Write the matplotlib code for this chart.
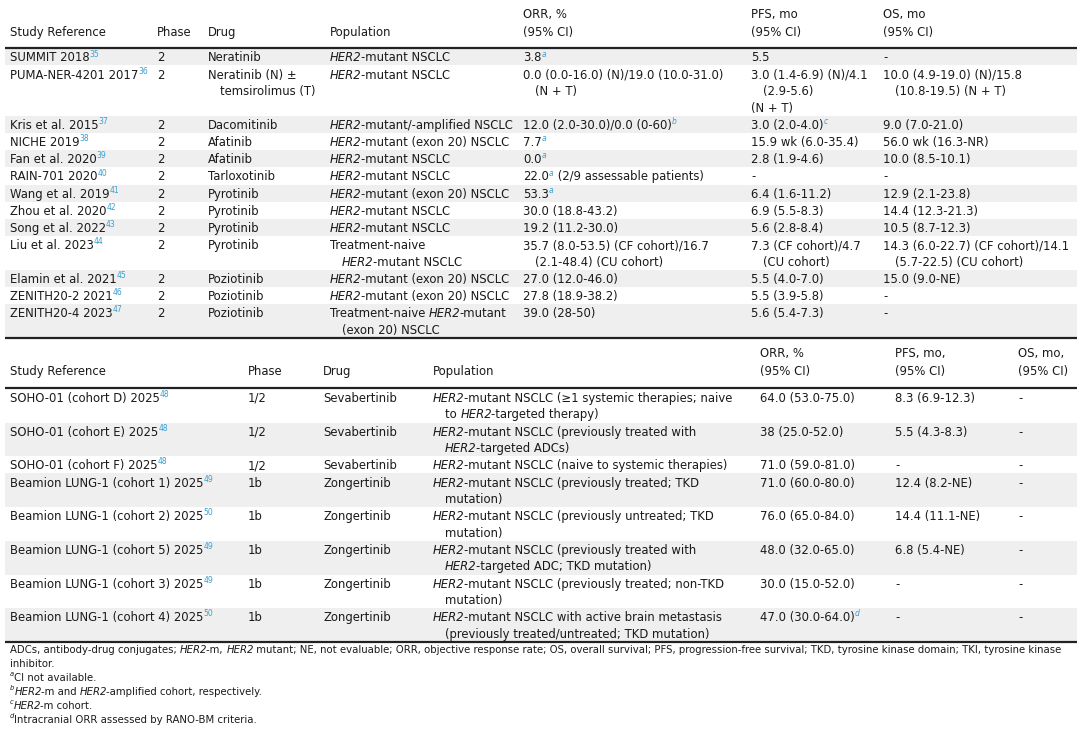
import re
import matplotlib
matplotlib.use('Agg')
import matplotlib.pyplot as plt
from matplotlib.font_manager import FontProperties

# ---------------- data: table 1 ----------------
t1_header = ["Study Reference", "Phase", "Drug", "Population",
             "ORR, %\n(95% CI)", "PFS, mo\n(95% CI)", "OS, mo\n(95% CI)"]
t1_study = ["SUMMIT 2018<sup>35</sup>", "PUMA-NER-4201 2017<sup>36</sup>",
            "Kris et al. 2015<sup>37</sup>", "NICHE 2019<sup>38</sup>",
            "Fan et al. 2020<sup>39</sup>", "RAIN-701 2020<sup>40</sup>",
            "Wang et al. 2019<sup>41</sup>", "Zhou et al. 2020<sup>42</sup>",
            "Song et al. 2022<sup>43</sup>", "Liu et al. 2023<sup>44</sup>",
            "Elamin et al. 2021<sup>45</sup>", "ZENITH20-2 2021<sup>46</sup>",
            "ZENITH20-4 2023<sup>47</sup>"]
t1_phase = ["2"] * 13
t1_drug = ["Neratinib", "Neratinib (N) \u00b1\ntemsirolimus (T)", "Dacomitinib",
           "Afatinib", "Afatinib", "Tarloxotinib", "Pyrotinib", "Pyrotinib",
           "Pyrotinib", "Pyrotinib", "Poziotinib", "Poziotinib", "Poziotinib"]
t1_population = ["<i>HER2</i>-mutant NSCLC", "<i>HER2</i>-mutant NSCLC",
                 "<i>HER2</i>-mutant/-amplified NSCLC",
                 "<i>HER2</i>-mutant (exon 20) NSCLC", "<i>HER2</i>-mutant NSCLC",
                 "<i>HER2</i>-mutant NSCLC", "<i>HER2</i>-mutant (exon 20) NSCLC",
                 "<i>HER2</i>-mutant NSCLC", "<i>HER2</i>-mutant NSCLC",
                 "Treatment-naive\n<i>HER2</i>-mutant NSCLC",
                 "<i>HER2</i>-mutant (exon 20) NSCLC",
                 "<i>HER2</i>-mutant (exon 20) NSCLC",
                 "Treatment-naive <i>HER2</i>-mutant\n(exon 20) NSCLC"]
t1_orr = ["3.8<supi>a</supi>",
          "0.0 (0.0-16.0) (N)/19.0 (10.0-31.0)\n(N + T)",
          "12.0 (2.0-30.0)/0.0 (0-60)<supi>b</supi>",
          "7.7<supi>a</supi>", "0.0<supi>a</supi>",
          "22.0<supi>a</supi> (2/9 assessable patients)",
          "53.3<supi>a</supi>", "30.0 (18.8-43.2)", "19.2 (11.2-30.0)",
          "35.7 (8.0-53.5) (CF cohort)/16.7\n(2.1-48.4) (CU cohort)",
          "27.0 (12.0-46.0)", "27.8 (18.9-38.2)", "39.0 (28-50)"]
t1_pfs = ["5.5", "3.0 (1.4-6.9) (N)/4.1\n(2.9-5.6)\n!(N + T)",
          "3.0 (2.0-4.0)<supi>c</supi>", "15.9 wk (6.0-35.4)", "2.8 (1.9-4.6)",
          "-", "6.4 (1.6-11.2)", "6.9 (5.5-8.3)", "5.6 (2.8-8.4)",
          "7.3 (CF cohort)/4.7\n(CU cohort)", "5.5 (4.0-7.0)", "5.5 (3.9-5.8)",
          "5.6 (5.4-7.3)"]
t1_os = ["-", "10.0 (4.9-19.0) (N)/15.8\n(10.8-19.5) (N + T)", "9.0 (7.0-21.0)",
         "56.0 wk (16.3-NR)", "10.0 (8.5-10.1)", "-", "12.9 (2.1-23.8)",
         "14.4 (12.3-21.3)", "10.5 (8.7-12.3)",
         "14.3 (6.0-22.7) (CF cohort)/14.1\n(5.7-22.5) (CU cohort)",
         "15.0 (9.0-NE)", "-", "-"]

# ---------------- data: table 2 ----------------
t2_header = ["Study Reference", "Phase", "Drug", "Population",
             "ORR, %\n(95% CI)", "PFS, mo,\n(95% CI)", "OS, mo,\n(95% CI)"]
t2_study = ["SOHO-01 (cohort D) 2025<sup>48</sup>", "SOHO-01 (cohort E) 2025<sup>48</sup>",
            "SOHO-01 (cohort F) 2025<sup>48</sup>",
            "Beamion LUNG-1 (cohort 1) 2025<sup>49</sup>",
            "Beamion LUNG-1 (cohort 2) 2025<sup>50</sup>",
            "Beamion LUNG-1 (cohort 5) 2025<sup>49</sup>",
            "Beamion LUNG-1 (cohort 3) 2025<sup>49</sup>",
            "Beamion LUNG-1 (cohort 4) 2025<sup>50</sup>"]
t2_phase = ["1/2", "1/2", "1/2", "1b", "1b", "1b", "1b", "1b"]
t2_drug = ["Sevabertinib", "Sevabertinib", "Sevabertinib", "Zongertinib",
           "Zongertinib", "Zongertinib", "Zongertinib", "Zongertinib"]
t2_population = [
    "<i>HER2</i>-mutant NSCLC (\u22651 systemic therapies; naive\nto <i>HER2</i>-targeted therapy)",
    "<i>HER2</i>-mutant NSCLC (previously treated with\n<i>HER2</i>-targeted ADCs)",
    "<i>HER2</i>-mutant NSCLC (naive to systemic therapies)",
    "<i>HER2</i>-mutant NSCLC (previously treated; TKD\nmutation)",
    "<i>HER2</i>-mutant NSCLC (previously untreated; TKD\nmutation)",
    "<i>HER2</i>-mutant NSCLC (previously treated with\n<i>HER2</i>-targeted ADC; TKD mutation)",
    "<i>HER2</i>-mutant NSCLC (previously treated; non-TKD\nmutation)",
    "<i>HER2</i>-mutant NSCLC with active brain metastasis\n(previously treated/untreated; TKD mutation)"]
t2_orr = ["64.0 (53.0-75.0)", "38 (25.0-52.0)", "71.0 (59.0-81.0)",
          "71.0 (60.0-80.0)", "76.0 (65.0-84.0)", "48.0 (32.0-65.0)",
          "30.0 (15.0-52.0)", "47.0 (30.0-64.0)<supi>d</supi>"]
t2_pfs = ["8.3 (6.9-12.3)", "5.5 (4.3-8.3)", "-", "12.4 (8.2-NE)",
          "14.4 (11.1-NE)", "6.8 (5.4-NE)", "-", "-"]
t2_os = ["-"] * 8

footnotes = [
    "ADCs, antibody-drug conjugates; <i>HER2</i>-m, <i>HER2</i> mutant; NE, not evaluable; ORR, objective response rate; OS, overall survival; PFS, progression-free survival; TKD, tyrosine kinase domain; TKI, tyrosine kinase",
    "inhibitor.",
    "<fsup>a</fsup>CI not available.",
    "<fsup>b</fsup><i>HER2</i>-m and <i>HER2</i>-amplified cohort, respectively.",
    "<fsup>c</fsup><i>HER2</i>-m cohort.",
    "<fsup>d</fsup>Intracranial ORR assessed by RANO-BM criteria.",
]

# ---------------- drawing ----------------
W, H = 1080, 733
fig = plt.figure(figsize=(W / 100, H / 100), dpi=100)
ax = fig.add_axes([0, 0, 1, 1])
ax.set_xlim(0, W)
ax.set_ylim(H, 0)
ax.axis('off')
renderer = fig.canvas.get_renderer()

FAMILY = 'DejaVu Sans'
FS = 8.4
FFS = 7.33
TXT = '#1a1a1a'
SUPC = '#3a9fd0'
SHADE = '#efefef'
X0, X1 = 5, 1077
INDENT = 12
LINE = 16.5
PAD = 0.7
SUPSCALE = 0.66

_cache = {}


def measure(s, size, style):
    key = (s, size, style)
    if key not in _cache:
        prop = FontProperties(family=FAMILY, size=size, style=style)
        w1, _, _ = renderer.get_text_width_height_descent('|' + s + '|', prop, ismath=False)
        w0, _, _ = renderer.get_text_width_height_descent('||', prop, ismath=False)
        _cache[key] = w1 - w0
    return _cache[key]


TOK = re.compile(r'<(i|sup|supi|fsup)>(.*?)</\1>')


def segments(line):
    out, pos = [], 0
    for m in TOK.finditer(line):
        if m.start() > pos:
            out.append(('n', line[pos:m.start()]))
        out.append((m.group(1), m.group(2)))
        pos = m.end()
    if pos < len(line):
        out.append(('n', line[pos:]))
    return out


def draw_line(x, yc, line, fs=FS):
    fpx = fs * 100 / 72
    base = yc + 0.365 * fpx
    for kind, s in segments(line):
        if kind in ('sup', 'supi', 'fsup'):
            size = fs * SUPSCALE
            style = 'italic' if kind in ('supi', 'fsup') else 'normal'
            yb = base - 0.42 * fpx
            col = SUPC if kind != 'fsup' else TXT
        else:
            size = fs
            style = 'italic' if kind == 'i' else 'normal'
            yb = base
            col = TXT
        ax.text(x, yb, s, fontsize=size, family=FAMILY, style=style,
                color=col, va='baseline', ha='left')
        x += measure(s, size, style)
        if kind == 'i':
            x -= 1.0


def draw_cell(x, yc, text, indent=True):
    for k, ln in enumerate(text.split('\n')):
        dx = 0
        if ln.startswith('!'):
            ln = ln[1:]
        elif k > 0 and indent:
            dx = INDENT
        draw_line(x + dx, yc + k * LINE, ln)


def rule(y, lw=1.6, color='#222222'):
    ax.plot([X0, X1], [y, y], color=color, lw=lw, solid_capstyle='butt')


def draw_table(cols_x, header, header_y2, header_rule, columns, shade_first):
    for x, h in zip(cols_x, header):
        parts = h.split('\n')
        for k, p in enumerate(parts):
            draw_line(x, header_y2 - (len(parts) - 1 - k) * (LINE + 1.5), p)
    rule(header_rule)
    y = header_rule + 0.8
    nrows = len(columns[0])
    for r in range(nrows):
        cells = [c[r] for c in columns]
        n = max(len(c.split('\n')) for c in cells)
        h = n * LINE + PAD
        if (r % 2 == 0) == shade_first:
            ax.axhspan(y, y + h, xmin=X0 / W, xmax=X1 / W, color=SHADE, lw=0, zorder=0)
        yc = y + PAD / 2 + LINE / 2 + 0.3
        for x, c in zip(cols_x, cells):
            draw_cell(x, yc, c)
        y += h
    rule(y)
    return y


t1_x = [10, 157, 208, 330, 523, 751, 883]
t2_x = [10, 248, 323, 433, 760, 895, 1018]

draw_table(t1_x, t1_header, 32, 47.5,
           [t1_study, t1_phase, t1_drug, t1_population, t1_orr, t1_pfs, t1_os],
           shade_first=True)
draw_table(t2_x, t2_header, 371, 388,
           [t2_study, t2_phase, t2_drug, t2_population, t2_orr, t2_pfs, t2_os],
           shade_first=False)

for k, fn in enumerate(footnotes):
    draw_line(10, 649 + k * 14, fn, fs=FFS)

fig.savefig('out.png', dpi=100, facecolor='white')
